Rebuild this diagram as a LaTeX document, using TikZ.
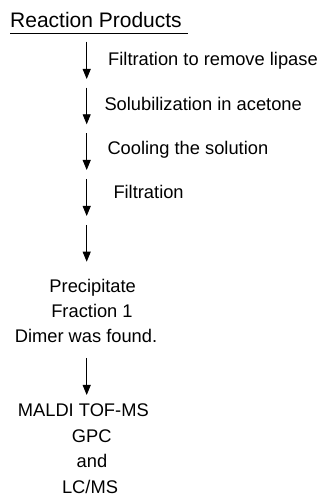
\documentclass[tikz,border=0pt]{standalone}
\usepackage{fontspec}
\setmainfont{Liberation Sans}
\usetikzlibrary{arrows.meta}
\tikzset{
  flow/.style={-{Triangle[width=8pt,length=10pt]}, line width=0.9pt},
  steplabel/.style={anchor=base west, inner sep=0pt},
  result/.style={anchor=base, inner sep=0pt},
}
\begin{document}
\begin{tikzpicture}[x=1pt, y=1pt, font=\fontsize{18.3}{22}\selectfont]
  \useasboundingbox (0,0) rectangle (323,497);
  % 标题
  \node[anchor=base west, inner sep=0pt, font=\fontsize{21}{24}\selectfont] (title) at (10,469.3) {Reaction Products};
  \draw[line width=1pt] (10,463) -- (188,463);
  % 箭头端点
  \coordinate (s1) at (86.7,455.3); \coordinate (e1) at (86.7,418);
  \coordinate (s2) at (86.7,409.3); \coordinate (e2) at (86.7,372.7);
  \coordinate (s3) at (86.7,363.7); \coordinate (e3) at (86.7,327);
  \coordinate (s4) at (86.7,318);   \coordinate (e4) at (86.7,281);
  \coordinate (s5) at (86.7,272);   \coordinate (e5) at (86.7,235.3);
  \coordinate (s6) at (86.7,139);   \coordinate (e6) at (86.7,102);
  \draw[flow] (s1) -- (e1);
  \draw[flow] (s2) -- (e2);
  \draw[flow] (s3) -- (e3);
  \draw[flow] (s4) -- (e4);
  \draw[flow] (s5) -- (e5);
  \draw[flow] (s6) -- (e6);
  % 各步骤
  \node[steplabel] (filt1) at (108,431) {Filtration to remove lipase};
  \node[steplabel] (solub) at (104.3,386) {Solubilization in acetone};
  \node[steplabel] (cool) at (107.3,342) {Cooling the solution};
  \node[steplabel] (filt2) at (113.3,298) {Filtration};
  % 沉淀
  \node[result] (prec) at (92.7,204) {Precipitate};
  \node[result] (frac) at (92,179) {Fraction 1};
  \node[result] (dimer) at (86,154) {Dimer was found.};
  % 分析
  \node[result] (maldi) at (83.3,80) {MALDI TOF-MS};
  \node[result] (gpc) at (91.7,54) {GPC};
  \node[result] (and) at (92,29) {and};
  \node[result] (lcms) at (90,4) {LC/MS};
\end{tikzpicture}
\end{document}
